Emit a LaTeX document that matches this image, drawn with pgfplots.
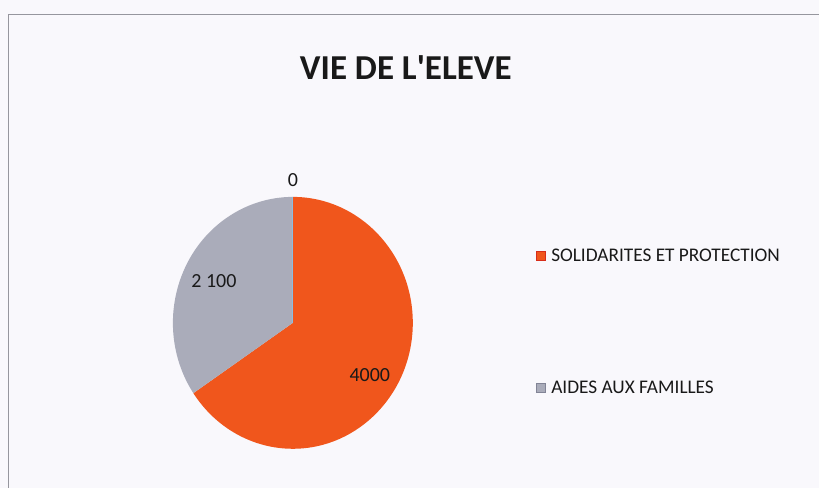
\documentclass[border=0pt]{standalone}
\usepackage{pgfplots}
\pgfplotsset{compat=1.18}
\usepackage{pgfplotstable}
\usepackage{fontspec}
\setmainfont{Carlito}
\definecolor{bg}{RGB}{249,248,252}
\definecolor{sol}{RGB}{240,86,28}
\definecolor{solb}{RGB}{215,45,25}
\definecolor{aid}{RGB}{170,172,186}
\definecolor{aidb}{RGB}{130,132,150}
\definecolor{zer}{RGB}{140,190,225}
\definecolor{frm}{RGB}{150,150,158}
\definecolor{txt}{RGB}{25,25,25}
\pgfplotstableread{
cat val
SOL 4000
AID 2100
ZERO 0
}\piedata
\begin{document}
\begin{tikzpicture}
\pgfplotstablegetelem{0}{val}\of\piedata \let\va\pgfplotsretval
\pgfplotstablegetelem{1}{val}\of\piedata \let\vb\pgfplotsretval
\pgfmathsetmacro\frac{\va/(\va+\vb)}
\pgfmathsetmacro\aend{90-360*\frac}
\begin{axis}[width=819bp,height=488bp,scale only axis,
  xmin=0,xmax=819,ymin=0,ymax=488,hide axis,clip=false]
\fill[bg] (axis cs:0,0) rectangle (axis cs:819,488);
\draw[frm,line width=0.8pt] (axis cs:8,0) -- (axis cs:8,474) -- (axis cs:819,474);
% pie
\fill[sol] (axis cs:293,165) -- ++(0,126bp) arc[start angle=90,end angle=\aend,x radius=120bp,y radius=126bp] -- cycle;
\fill[aid] (axis cs:293,165) -- ++(\aend:120bp and 126bp) arc[start angle=\aend,end angle=-270,x radius=120bp,y radius=126bp] -- cycle;
\draw[zer,line width=1pt] (axis cs:293,165) -- ++(0,126bp);
% labels
\node[txt,font=\fontsize{20bp}{24bp}\selectfont] at (axis cs:293,308) {0};
\node[txt,font=\fontsize{20bp}{24bp}\selectfont] at (axis cs:214,207) {2 100};
\node[txt,font=\fontsize{20bp}{24bp}\selectfont] at (axis cs:370,113) {4000};
% title
\node[txt,font=\bfseries\fontsize{35bp}{40bp}\selectfont] at (axis cs:406,420) {VIE DE L\textquotesingle ELEVE};
% legend
\filldraw[fill=sol,draw=solb,line width=0.6pt] (axis cs:537,228) rectangle (axis cs:546,237);
\node[txt,anchor=west,font=\fontsize{19.3bp}{23bp}\selectfont] at (axis cs:548,233) {SOLIDARITES ET PROTECTION};
\filldraw[fill=aid,draw=aidb,line width=0.6pt] (axis cs:537,96) rectangle (axis cs:546,105);
\node[txt,anchor=west,font=\fontsize{19.3bp}{23bp}\selectfont] at (axis cs:548,100) {AIDES AUX FAMILLES};
\end{axis}
\end{tikzpicture}
\end{document}
